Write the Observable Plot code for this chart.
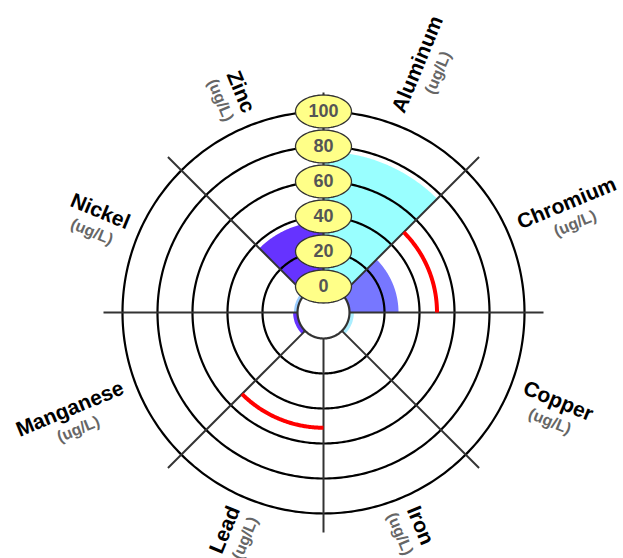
<!DOCTYPE html>
<html><head><meta charset="utf-8">
<script src="https://cdn.jsdelivr.net/npm/d3@7"></script>
<script src="https://cdn.jsdelivr.net/npm/@observablehq/plot@0.6"></script>
<style>body{margin:0;background:#fff;} #chart svg{display:block;}</style>
</head><body><div id="chart"></div>
<script>
// ---- data ----
const categories = ["Aluminum","Chromium","Copper","Iron","Lead","Manganese","Nickel","Zinc"];
const values = [77, 28, 2.5, 0, 0, 2.5, 2, 37];
const barColors = ["#99ffff","#7777ff","#aaeeff","#ffffff","#ffffff","#6633ff","#99ccff","#6633ff"];
const limitCategories = ["Chromium","Lead"];
const limitValues = [50, 51];
const ringTicks = [0, 20, 40, 60, 80, 100];
const unitLabel = "(ug/L)";

// ---- layout ----
const W = 623, H = 558, CX = 323, CY = 312;
const rScale = d3.scaleLinear().domain([0, 100]).range([26, 201]);
const spokeR = rScale(100) + 19;
const labelInner = 214;
const deg = Math.PI / 180;
const px = (r, a) => r * Math.sin(a * deg);
const py = (r, a) => r * Math.cos(a * deg);
const step = 360 / categories.length;

// bars as polygons
const barPts = [];
categories.forEach((c, i) => {
  const v = values[i];
  if (!(v > 0)) return;
  const a1 = i * step, a2 = (i + 1) * step;
  for (let a = a1; a <= a2 + 1e-9; a += 0.5) barPts.push({cat: c, x: px(rScale(v), a), y: py(rScale(v), a), color: barColors[i]});
  for (let a = a2; a >= a1 - 1e-9; a -= 0.5) barPts.push({cat: c, x: px(rScale(0), a), y: py(rScale(0), a), color: barColors[i]});
});

// rings
const ringPts = [];
ringTicks.filter(t => t > 0).forEach(t => {
  for (let a = 0; a <= 360; a += 1) ringPts.push({t, x: px(rScale(t), a), y: py(rScale(t), a)});
});
const holePts = [];
for (let a = 0; a <= 360; a += 1) holePts.push({x: px(rScale(0), a), y: py(rScale(0), a)});

// limit arcs
const limitPts = [];
limitCategories.forEach((c, j) => {
  const i = categories.indexOf(c);
  const a1 = i * step, a2 = (i + 1) * step;
  for (let a = a1; a <= a2 + 1e-9; a += 0.5) limitPts.push({cat: c, x: px(rScale(limitValues[j]), a), y: py(rScale(limitValues[j]), a)});
});

// tick ellipses
const RX = 28, RY = 16.5;
const ellPts = [];
ringTicks.forEach(t => {
  for (let k = 0; k <= 72; k++) {
    const f = k / 72 * 2 * Math.PI;
    ellPts.push({t, x: RX * Math.cos(f), y: rScale(t) + RY * Math.sin(f)});
  }
});

// labels
const ctx = document.createElement("canvas").getContext("2d");
const NAME_FONT = 21, SUB_FONT = 16;
ctx.font = `bold ${NAME_FONT}px "Liberation Sans", Arial, sans-serif`;
const labels = [];
categories.forEach((c, i) => {
  const a = i * step + step / 2;
  const rot = a < 180 ? a - 90 : a - 270;
  const w = ctx.measureText(c).width;
  const rc = labelInner + w / 2;
  const bx = px(rc, a), by = py(rc, a);
  // local "down" in text frame, in data coords (y up)
  const ux = -Math.sin(rot * deg), uy = -Math.cos(rot * deg);
  labels.push({name: c, sub: unitLabel, rot,
    nx: bx + ux * -8, ny: by + uy * -8,
    sx: bx + ux * 14, sy: by + uy * 14});
});

const FONT = '"Liberation Sans", Arial, sans-serif';

const chart = Plot.plot({
  width: W, height: H, margin: 0,
  x: {domain: [-CX, W - CX], axis: null},
  y: {domain: [-(H - CY), CY], axis: null},
  color: {type: "identity"},
  style: {background: "#fff"},
  marks: [
    Plot.line(barPts, {x: "x", y: "y", z: "cat", fill: "color", stroke: "none"}),
    Plot.line(ringPts, {x: "x", y: "y", z: "t", stroke: "#000", strokeWidth: 2.2}),
    Plot.link(categories, {
      x1: (d, i) => px(rScale(0), i * step), y1: (d, i) => py(rScale(0), i * step),
      x2: (d, i) => px(spokeR, i * step), y2: (d, i) => py(spokeR, i * step),
      stroke: "#333", strokeWidth: 2
    }),
    Plot.line(limitPts, {x: "x", y: "y", z: "cat", stroke: "#ff0000", strokeWidth: 4, strokeLinecap: "butt"}),
    Plot.line(holePts, {x: "x", y: "y", fill: "#fff", stroke: "#333", strokeWidth: 2.2}),
    Plot.line(ellPts, {x: "x", y: "y", z: "t", fill: "#ffff88", stroke: "#333", strokeWidth: 1.3}),
    Plot.text(ringTicks, {x: 0, y: t => rScale(t), text: t => String(t), fontSize: 18, fontWeight: "bold", fill: "#555", fontFamily: FONT, textAnchor: "middle", lineAnchor: "middle"}),
    Plot.text(labels, {x: "nx", y: "ny", text: "name", rotate: "rot", fontSize: NAME_FONT, fontWeight: "bold", fill: "#000", fontFamily: FONT, textAnchor: "middle", lineAnchor: "middle"}),
    Plot.text(labels, {x: "sx", y: "sy", text: "sub", rotate: "rot", fontSize: SUB_FONT, fontWeight: "bold", fill: "#666", fontFamily: FONT, textAnchor: "middle", lineAnchor: "middle"})
  ]
});
document.getElementById("chart").append(chart);
</script>
</body></html>
